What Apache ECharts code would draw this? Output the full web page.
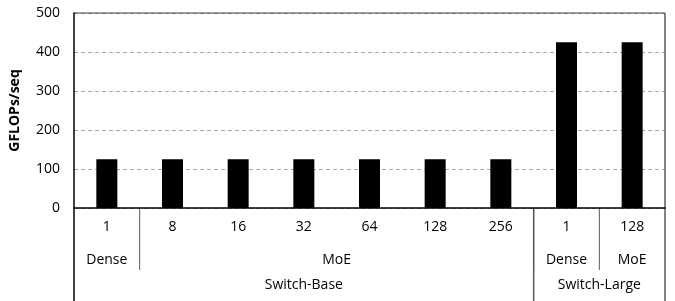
<!DOCTYPE html>
<html>
<head>
<meta charset="utf-8">
<script src="https://cdn.jsdelivr.net/npm/echarts@6/dist/echarts.min.js"></script>
<style>
  html, body { margin: 0; padding: 0; background: #fff; }
  #main { width: 675px; height: 301px; }
</style>
</head>
<body>
<div id="main"></div>
<script>
// chart values
var experts = ['1', '8', '16', '32', '64', '128', '256', '1', '128'];
var flops = [125, 125, 125, 125, 125, 125, 125, 425, 425];
var typeLabels = ['Dense', 'MoE', 'Dense', 'MoE'];
var typeSpans = [1, 6, 1, 1];
var modelLabels = ['Switch-Base', 'Switch-Large'];
var modelSpans = [7, 2];
var yTicks = [0, 100, 200, 300, 400, 500];

var FONT = 'Open Sans';
var chart = echarts.init(document.getElementById('main'));

var option = {
    animation: false,
    grid: { left: 73, right: 10, top: 13, bottom: 93 },
    xAxis: {
        type: 'category',
        data: experts,
        axisLine: { lineStyle: { color: '#000', width: 1.5 } },
        axisTick: { show: false },
        axisLabel: { color: '#000', fontFamily: FONT, fontSize: 14, margin: 12 }
    },
    yAxis: {
        type: 'value',
        min: yTicks[0],
        max: yTicks[yTicks.length - 1],
        interval: 100,
        name: 'GFLOPs/seq',
        nameLocation: 'middle',
        nameGap: 52,
        nameTextStyle: { color: '#000', fontFamily: FONT, fontSize: 14, fontWeight: 'bold' },
        axisLine: { show: true, lineStyle: { color: '#000', width: 1.5 } },
        axisTick: { show: false },
        axisLabel: { color: '#000', fontFamily: FONT, fontSize: 14, margin: 14 },
        splitLine: { lineStyle: { color: '#a6a6a6', type: [4, 3] } }
    },
    series: [{
        type: 'bar',
        data: flops,
        barWidth: 21,
        itemStyle: { color: '#000' }
    }]
};
chart.setOption(option);

// extra label rows and group separators, placed through the axis scales
function xAt(i) { return chart.convertToPixel({ xAxisIndex: 0 }, i); }
var step = xAt(1) - xAt(0);
function edge(i) { return xAt(0) - step / 2 + step * i; }
var y0 = chart.convertToPixel({ yAxisIndex: 0 }, 0);
var yTop = chart.convertToPixel({ yAxisIndex: 0 }, yTicks[yTicks.length - 1]);
var row2Y = y0 + 52, row3Y = y0 + 77;
var row2Bottom = y0 + 62, row3Bottom = 301;
var sepColor = '#595959';

var els = [];
function vline(x, ya, yb, color, w) {
    els.push({ type: 'line', shape: { x1: x, y1: ya, x2: x, y2: yb },
        style: { stroke: color, lineWidth: w || 1 }, silent: true });
}
function label(x, y, text) {
    els.push({ type: 'text', x: x, y: y, style: { text: text, fill: '#000',
        font: '14px "' + FONT + '"', textAlign: 'center', textVerticalAlign: 'middle' }, silent: true });
}

// frame: top and right border, left axis extension
els.push({ type: 'line', shape: { x1: edge(0), y1: yTop, x2: edge(experts.length), y2: yTop },
    style: { stroke: '#404040', lineWidth: 1 }, silent: true });
vline(edge(experts.length), yTop, row3Bottom, sepColor, 1.5);
vline(edge(0), y0, row3Bottom, '#000', 1.5);

var pos = 0;
typeSpans.forEach(function (n, k) {
    label((edge(pos) + edge(pos + n)) / 2, row2Y, typeLabels[k]);
    pos += n;
    if (pos < experts.length) vline(edge(pos), y0, row2Bottom, sepColor, 1);
});
pos = 0;
modelSpans.forEach(function (n, k) {
    label((edge(pos) + edge(pos + n)) / 2, row3Y, modelLabels[k]);
    pos += n;
    if (pos < experts.length) vline(edge(pos), y0, row3Bottom, sepColor, 1.5);
});

chart.setOption({ graphic: { elements: els } });
</script>
</body>
</html>
